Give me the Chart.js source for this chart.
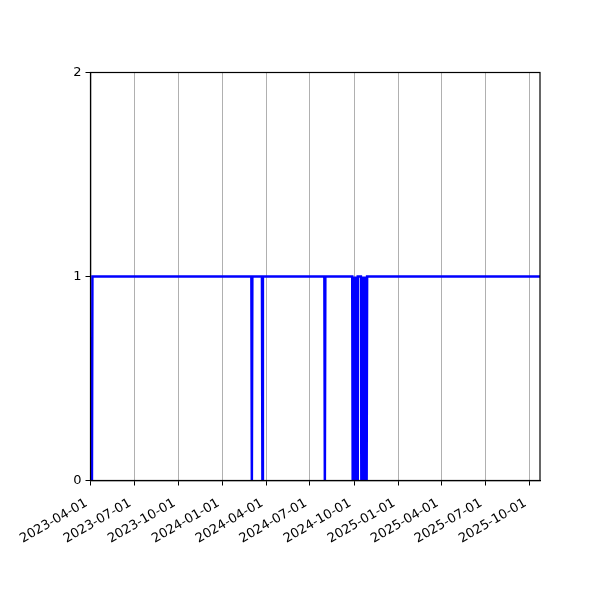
<!DOCTYPE html>
<html>
<head>
<meta charset="utf-8">
<script src="https://cdn.jsdelivr.net/npm/chart.js@4/dist/chart.umd.min.js"></script>
<style>
  html, body { margin: 0; padding: 0; background: #fff; }
  #wrap { width: 600px; height: 600px; }
</style>
</head>
<body>
<div id="wrap"><canvas id="status-chart"></canvas></div>
<script>
// change points of the status series (daily, 1 = up, 0 = down)
const dates = [
  '2023-04-01', '2023-04-04', '2023-04-05',
  '2024-03-01', '2024-03-02', '2024-03-03',
  '2024-03-23', '2024-03-24', '2024-03-25',
  '2024-07-31', '2024-08-01', '2024-08-02',
  '2024-09-27', '2024-09-28', '2024-09-29', '2024-09-30', '2024-10-01',
  '2024-10-02', '2024-10-03', '2024-10-04', '2024-10-06', '2024-10-07',
  '2024-10-08', '2024-10-09', '2024-10-10',
  '2024-10-15', '2024-10-16', '2024-10-17', '2024-10-19', '2024-10-20',
  '2024-10-22', '2024-10-23', '2024-10-25', '2024-10-26', '2024-10-27',
  '2024-10-28',
  '2025-10-23'
];
const values = [
  0, 0, 1,
  1, 0, 1,
  1, 0, 1,
  1, 0, 1,
  1, 0, 1, 0, 1,
  1, 0, 1, 0, 1,
  0, 1, 1,
  1, 0, 1, 0, 1,
  0, 1, 0, 1, 0,
  1,
  1
];
const tickLabels = [
  '2023-04-01', '2023-07-01', '2023-10-01', '2024-01-01', '2024-04-01',
  '2024-07-01', '2024-10-01', '2025-01-01', '2025-04-01', '2025-07-01',
  '2025-10-01'
];
const yTicks = [0, 1, 2];
const xStart = '2023-04-01';
const xEnd = '2025-10-23';

const ms = s => Date.parse(s + 'T00:00:00Z');
const fmt = v => new Date(v).toISOString().slice(0, 10);

const points = dates.map((d, i) => ({ x: ms(d), y: values[i] }));

// top / right spines
const frame = {
  id: 'frame',
  afterDraw(chart) {
    const { ctx, chartArea: a } = chart;
    ctx.save();
    ctx.strokeStyle = '#000';
    ctx.lineWidth = 1.2;
    ctx.strokeRect(a.left, a.top, a.right - a.left, a.bottom - a.top);
    ctx.restore();
  }
};

Chart.defaults.font.family = '"DejaVu Sans", sans-serif';
Chart.defaults.font.size = 13;
Chart.defaults.color = '#000';

new Chart(document.getElementById('status-chart'), {
  type: 'line',
  data: {
    datasets: [{
      data: points,
      borderColor: '#0000ff',
      borderWidth: 2.5,
      pointRadius: 0,
      tension: 0,
      fill: false
    }]
  },
  options: {
    responsive: true,
    maintainAspectRatio: false,
    animation: false,
    layout: { padding: { top: 72.5, right: 60, left: 0, bottom: 0 } },
    plugins: { legend: { display: false }, tooltip: { enabled: false } },
    scales: {
      x: {
        type: 'linear',
        min: ms(xStart),
        max: ms(xEnd),
        afterBuildTicks: s => { s.ticks = tickLabels.map(t => ({ value: ms(t) })); },
        afterFit: s => { s.height = 119.5; },
        ticks: {
          callback: v => fmt(v),
          maxRotation: 30,
          minRotation: 30,
          autoSkip: false,
          padding: 10,
          labelOffset: -4
        },
        grid: { color: '#b0b0b0', lineWidth: 1, tickColor: '#000', tickLength: 5 },
        border: { display: true, color: '#000', width: 1.2 }
      },
      y: {
        min: 0,
        max: 2,
        afterBuildTicks: s => { s.ticks = yTicks.map(v => ({ value: v })); },
        afterFit: s => { s.width = 90.5; },
        ticks: { padding: 4 },
        grid: { drawOnChartArea: false, tickColor: '#000', tickLength: 5 },
        border: { display: true, color: '#000', width: 1.2 }
      }
    }
  },
  plugins: [frame]
});
</script>
</body>
</html>
